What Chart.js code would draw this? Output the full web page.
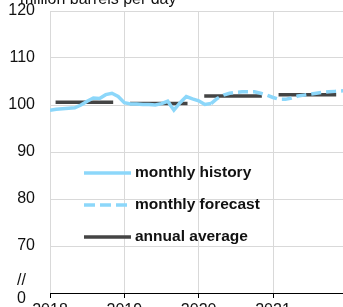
<!DOCTYPE html>
<html>
<head>
<meta charset="utf-8">
<script src="https://cdn.jsdelivr.net/npm/chart.js@4"></script>
<style>
  html, body { margin: 0; padding: 0; overflow: hidden; background: #fff; }
  #wrap { width: 343px; height: 307px; overflow: hidden; }
</style>
</head>
<body>
<div id="wrap"><canvas id="canvas1" width="343" height="330"></canvas></div>
<script>
const ctx = document.getElementById('canvas1').getContext('2d')

// x = month index from Jan of the first year
const yearLabels = ['2018', '2019', '2020', '2021']
const historyValues = [
  98.9, 99.1, 99.2, 99.3, 99.4, 100.0, 100.8, 101.5, 101.4, 102.2, 102.5, 101.8,
  100.5, 100.2, 100.2, 100.1, 100.1, 100.0, 100.3, 100.8, 98.9, 100.5, 101.8, 101.3,
  100.9, 100.1, 100.3
]
const forecastStart = 26
const forecastValues = [
  100.3, 101.4, 102.1, 102.5, 102.7, 102.8, 102.8, 102.8, 102.5, 102.1,
  101.6, 101.2, 101.2, 101.5, 101.9, 102.1, 102.3, 102.5, 102.7, 102.8, 102.9, 103.0, 103.1
]
const annualAverage = [100.6, 100.3, 101.9, 102.2]
const yTicks = [70, 80, 90, 100, 110, 120]

const blue = 'rgb(140, 215, 250)'
const dark = '#444444'

const history = historyValues.map((v, i) => ({ x: i, y: v }))
const forecast = forecastValues.map((v, i) => ({ x: forecastStart + i, y: v }))
const avg = []
annualAverage.forEach((v, i) => {
  avg.push({ x: i * 12 + 0.9, y: v })
  avg.push({ x: i * 12 + 10.2, y: v })
  avg.push({ x: i * 12 + 11, y: null })
})

const extras = {
  id: 'extras',
  afterDraw(chart) {
    const c = chart.ctx
    c.save()
    c.fillStyle = '#111'
    c.font = '16px "Liberation Sans", Arial, sans-serif'
    c.textBaseline = 'alphabetic'
    c.textAlign = 'left'
    c.fillText('million barrels per day', 20, 4)
    c.textBaseline = 'middle'
    c.fillText('//', 17, 281)
    c.fillText('0', 17, 299)

    // legend inside the plot
    const items = [
      { label: 'monthly history', color: blue, dash: [], y: 173 },
      { label: 'monthly forecast', color: blue, dash: [11, 5], y: 205 },
      { label: 'annual average', color: dark, dash: [], y: 237 }
    ]
    c.font = 'bold 15.5px "Liberation Sans", Arial, sans-serif'
    items.forEach(it => {
      c.beginPath()
      c.setLineDash(it.dash)
      c.lineWidth = 3.5
      c.strokeStyle = it.color
      c.moveTo(84, it.y)
      c.lineTo(131, it.y)
      c.stroke()
      c.fillStyle = '#111'
      c.fillText(it.label, 135, it.y)
    })
    c.restore()
  }
}

new Chart(ctx, {
  type: 'line',
  data: {
    datasets: [
      { label: 'monthly history', data: history, borderColor: blue, borderWidth: 3.5, pointRadius: 0, tension: 0, order: 0 },
      { label: 'monthly forecast', data: forecast, borderColor: blue, borderWidth: 3.5, borderDash: [10, 5], pointRadius: 0, tension: 0, order: 1 },
      { label: 'annual average', data: avg, borderColor: dark, borderWidth: 3.5, pointRadius: 0, spanGaps: false, order: 2 }
    ]
  },
  options: {
    responsive: false,
    animation: false,
    layout: { padding: { top: 11, right: 0, left: 0, bottom: 0 } },
    plugins: { legend: { display: false }, tooltip: { enabled: false } },
    scales: {
      x: {
        type: 'linear',
        min: 0,
        max: 47.3,
        afterBuildTicks: s => { s.ticks = yearLabels.map((l, i) => ({ value: i * 12 })) },
        afterFit: s => { s.height = 37; s.paddingLeft = 0; s.paddingRight = 0 },
        ticks: {
          autoSkip: false,
          maxRotation: 0,
          padding: 3,
          color: '#111',
          font: { size: 16, family: '"Liberation Sans", Arial, sans-serif' },
          callback: (v) => yearLabels[v / 12]
        },
        grid: { color: '#d9d9d9', tickColor: '#000', tickLength: 5 },
        border: { color: '#000', width: 1 }
      },
      y: {
        min: 60,
        max: 120,
        afterBuildTicks: s => { s.ticks = yTicks.map(v => ({ value: v })) },
        afterFit: s => { s.width = 50; s.paddingTop = 0; s.paddingBottom = 0 },
        ticks: {
          padding: 15,
          color: '#111',
          font: { size: 16, family: '"Liberation Sans", Arial, sans-serif' }
        },
        grid: { color: '#d9d9d9', drawTicks: false },
        border: { display: false }
      }
    }
  },
  plugins: [extras]
})
</script>
</body>
</html>
